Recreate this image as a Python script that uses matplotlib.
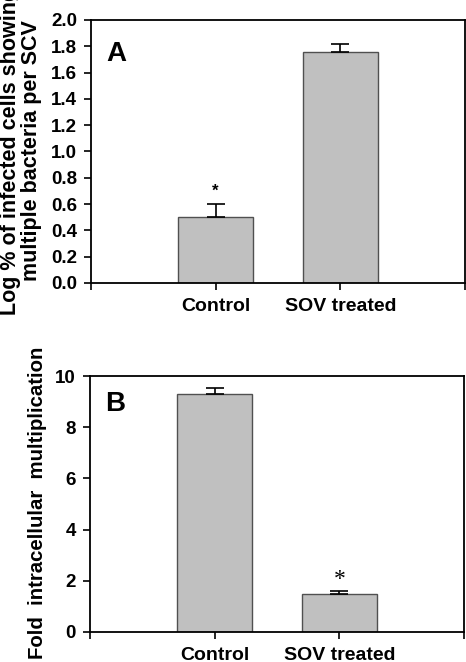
import matplotlib
matplotlib.use("Agg")
import matplotlib.pyplot as plt

plt.rcParams['font.family'] = ['Liberation Sans', 'DejaVu Sans']
plt.rcParams['font.weight'] = 'bold'

categories = ["Control", "SOV treated"]
a_values = [0.50, 1.755]
a_errors = [0.10, 0.06]
b_values = [9.30, 1.50]
b_errors = [0.22, 0.10]
a_yticks = [0.0, 0.2, 0.4, 0.6, 0.8, 1.0, 1.2, 1.4, 1.6, 1.8, 2.0]
b_yticks = [0, 2, 4, 6, 8, 10]

W, H = 466, 662
fig = plt.figure(figsize=(W / 100, H / 100), dpi=100)

def px_axes(left, top, right, bottom):
    return fig.add_axes([left / W, 1 - bottom / H, (right - left) / W, (bottom - top) / H])

def style(ax, ymax, yticks, fmt):
    ax.set_xlim(-1, 2)
    ax.set_ylim(0, ymax)
    ax.set_yticks(yticks)
    ax.set_yticklabels([fmt.format(t) for t in yticks], fontsize=13.5, fontweight='bold')
    ax.set_xticks([-1, 0, 1, 2])
    ax.set_xticklabels([""] + categories + [""], fontsize=14, fontweight='bold')
    ax.tick_params(axis='both', direction='out', length=5, width=1.2, color='black')
    ax.tick_params(axis='x', pad=6)
    ax.tick_params(axis='y', pad=5)
    for s in ax.spines.values():
        s.set_linewidth(1.3)
        s.set_color('black')

def draw(ax, values, errors):
    x = list(range(len(categories)))
    ax.bar(x, values, width=0.6, color='#c0c0c0', edgecolor='#505050', linewidth=1.0, zorder=2)
    ax.errorbar(x, values, yerr=[[0] * len(errors), errors], fmt='none', ecolor='black',
                elinewidth=1.2, capsize=6.5, capthick=1.2, zorder=3)

# Panel A
axA = px_axes(91, 20, 465, 283)
style(axA, 2.0, a_yticks, "{:.1f}")
draw(axA, a_values, a_errors)
axA.text(0, 0.64, "*", ha='center', va='bottom', fontsize=12, fontweight='bold')
axA.text(0.04, 0.87, "A", transform=axA.transAxes, fontsize=20, fontweight='bold', ha='left', va='center')
fig.text(21 / W, 1 - 151 / H, "Log % of infected cells showing\nmultiple bacteria per SCV",
         rotation=90, ha='center', va='center', fontsize=15.5, fontweight='bold', linespacing=1.0)

# Panel B
axB = px_axes(90, 376, 464, 632)
style(axB, 10, b_yticks, "{:d}")
draw(axB, b_values, b_errors)
axB.text(1, 1.66, "*", ha='center', va='bottom', fontsize=17, fontweight='normal',
         family='Liberation Serif')
axB.text(0.04, 0.89, "B", transform=axB.transAxes, fontsize=20, fontweight='bold', ha='left', va='center')
fig.text(37.5 / W, 1 - 503 / H, "Fold  intracellular  multiplication",
         rotation=90, ha='center', va='center', fontsize=14.7, fontweight='bold')

fig.savefig("out.png", dpi=100)
